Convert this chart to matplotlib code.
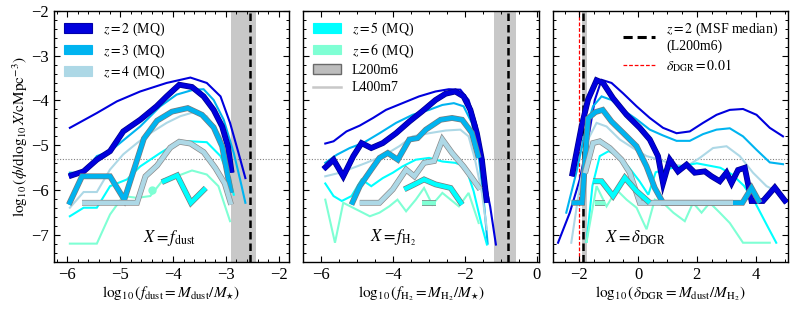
import matplotlib
matplotlib.use('Agg')
import matplotlib.pyplot as plt
import matplotlib.patheffects as pe
from matplotlib.lines import Line2D
from matplotlib.patches import Patch
from matplotlib.ticker import MultipleLocator

plt.rcParams['font.family'] = 'serif'
plt.rcParams['font.serif'] = ['Liberation Serif', 'DejaVu Serif']
plt.rcParams['mathtext.fontset'] = 'stix'

# ---------------- data ----------------
redshifts = [2, 3, 4, 5, 6]
z_colors = ['#0000dd', '#00b4f0', '#add8e6', '#00ffff', '#7fffd4']
z_edges = ['#00008b', '#7a7a7a', '#8a8a8a', '#7a7a7a', '#7a7a7a']

ylim = (-7.6, -2.0)
y_limit_line = -5.3

# Panel 1: f_dust
p1_xlim = (-6.25, -1.8)
p1_band = (-2.90, -2.42)
p1_median = -2.55
p1_thin_z2_x = [-5.95, -5.44, -5.06, -4.62, -4.12, -3.67, -3.36, -3.10, -2.92, -2.76, -2.63]
p1_thin_z2_y = [-4.61, -4.28, -4.02, -3.80, -3.61, -3.49, -3.61, -3.91, -4.50, -5.17, -5.73]
p1_thin_z3_x = [-5.95, -5.69, -5.44, -5.19, -4.62, -4.24, -3.93, -3.61, -3.42, -3.23, -3.04, -2.85, -2.73, -2.63]
p1_thin_z3_y = [-5.61, -5.61, -5.24, -5.13, -4.58, -4.13, -3.87, -3.76, -3.75, -3.99, -4.43, -5.17, -5.76, -6.28]
p1_thin_z4_x = [-5.95, -5.69, -5.44, -5.19, -4.94, -4.68, -4.43, -4.12, -3.86, -3.60, -3.36, -3.10, -2.92]
p1_thin_z4_y = [-6.39, -6.04, -6.04, -5.54, -5.20, -4.95, -4.73, -4.50, -4.35, -4.26, -4.35, -4.80, -5.60]
p1_thin_z5_x = [-5.95, -5.69, -5.44, -5.19, -4.87, -4.62, -4.24, -3.93, -3.67, -3.36, -3.10, -2.92, -2.85]
p1_thin_z5_y = [-6.58, -6.39, -6.39, -5.91, -5.76, -5.47, -5.17, -4.95, -4.91, -4.93, -5.24, -5.76, -6.10]
p1_thin_z6_x = [-5.95, -5.44, -5.19, -4.94, -4.68, -4.43, -4.18, -3.93, -3.64, -3.36, -3.14, -2.92]
p1_thin_z6_y = [-7.19, -7.19, -6.54, -6.13, -6.17, -6.13, -5.76, -5.69, -5.56, -5.65, -5.91, -6.69]
p1_thick_z2_x = [-5.97, -5.69, -5.44, -5.19, -4.94, -4.62, -4.31, -4.12, -3.88, -3.64, -3.42, -3.23, -3.07, -2.96, -2.89]
p1_thick_z2_y = [-5.69, -5.58, -5.32, -5.13, -4.69, -4.43, -4.13, -3.91, -3.65, -3.70, -3.91, -4.21, -4.58, -5.02, -5.61]
p1_thick_z3_x = [-5.97, -5.72, -5.19, -4.92, -4.55, -4.30, -4.02, -3.72, -3.45, -3.23, -3.07, -2.95, -2.90]
p1_thick_z3_y = [-6.32, -5.69, -5.69, -6.21, -4.85, -4.45, -4.25, -4.17, -4.32, -4.60, -5.02, -5.76, -6.06]
p1_thick_z4_x = [-5.72, -4.68, -4.52, -4.30, -4.05, -3.88, -3.67, -3.42, -3.20, -3.02, -2.90]
p1_thick_z4_y = [-6.28, -6.28, -5.69, -5.45, -5.05, -4.92, -4.96, -5.15, -5.50, -5.85, -6.32]
p1_thick_z5_x = [-4.21, -3.92, -3.66, -3.38]
p1_thick_z5_y = [-5.82, -5.67, -6.28, -5.95]
p1_thick_z6_x = [-4.40]
p1_thick_z6_y = [-6.00]

# Panel 2: f_H2
p2_xlim = (-6.5, 0.05)
p2_band = (-1.19, -0.57)
p2_median = -0.80
p2_thin_z2_x = [-5.89, -5.66, -5.30, -4.93, -4.56, -4.20, -3.74, -3.28, -2.82, -2.45, -2.13, -1.90, -1.67, -1.49, -1.30, -1.14]
p2_thin_z2_y = [-4.96, -4.91, -4.69, -4.56, -4.39, -4.21, -4.06, -3.91, -3.80, -3.75, -3.76, -3.99, -4.58, -5.61, -6.36, -7.21]
p2_thin_z3_x = [-5.89, -5.57, -5.21, -4.84, -4.38, -3.92, -3.46, -3.00, -2.63, -2.31, -2.04, -1.81, -1.62, -1.49, -1.37]
p2_thin_z3_y = [-5.39, -5.21, -5.06, -4.95, -4.73, -4.50, -4.32, -4.21, -4.10, -4.06, -4.13, -4.50, -5.24, -6.13, -7.19]
p2_thin_z4_x = [-5.89, -5.48, -5.11, -4.75, -4.29, -3.83, -3.46, -3.00, -2.54, -2.13, -1.90, -1.72, -1.53, -1.39]
p2_thin_z4_y = [-5.69, -5.61, -5.50, -5.39, -5.24, -5.02, -4.80, -4.73, -4.67, -4.65, -4.80, -5.32, -6.06, -6.87]
p2_thin_z5_x = [-5.89, -5.66, -5.43, -5.16, -4.88, -4.61, -4.29, -4.01, -3.74, -3.37, -3.00, -2.63, -2.27, -1.99, -1.76, -1.53, -1.39]
p2_thin_z5_y = [-5.85, -6.13, -6.24, -6.13, -5.76, -5.91, -5.73, -5.61, -5.47, -5.32, -5.28, -5.36, -5.39, -5.47, -6.02, -6.80, -7.21]
p2_thin_z6_x = [-5.89, -5.62, -5.39, -5.02, -4.65, -4.38, -4.11, -3.88, -3.64, -3.37, -3.14, -2.91, -2.63, -2.40, -2.17, -1.90, -1.62]
p2_thin_z6_y = [-6.21, -7.17, -6.28, -6.43, -6.58, -6.50, -6.36, -6.21, -6.47, -6.21, -5.95, -6.32, -6.06, -6.21, -6.36, -6.06, -6.73]
p2_thick_z2_x = [-5.94, -5.66, -5.39, -5.11, -4.88, -4.61, -4.29, -3.92, -3.55, -3.19, -2.82, -2.54, -2.27, -2.04, -1.85, -1.67, -1.53, -1.39]
p2_thick_z2_y = [-5.53, -5.32, -5.69, -5.24, -4.95, -5.06, -4.95, -4.73, -4.47, -4.24, -3.99, -3.85, -3.80, -3.91, -4.21, -4.73, -5.32, -6.28]
p2_thick_z3_x = [-5.16, -4.93, -4.61, -4.38, -4.15, -3.87, -3.55, -3.32, -3.09, -2.68, -2.36, -2.08, -1.81, -1.62]
p2_thick_z3_y = [-6.32, -5.91, -5.54, -5.28, -5.17, -5.32, -4.87, -4.84, -4.65, -4.43, -4.39, -4.43, -4.72, -5.28]
p2_thick_z4_x = [-4.93, -4.38, -4.01, -3.64, -3.41, -3.14, -2.86, -2.63, -2.36, -2.04, -1.81, -1.58]
p2_thick_z4_y = [-6.28, -6.28, -5.98, -5.54, -5.69, -5.39, -5.35, -4.87, -5.17, -5.47, -5.72, -5.98]
p2_thick_z5_x = [-3.69, -3.46, -3.14, -2.82, -2.40, -2.08]
p2_thick_z5_y = [-5.98, -5.89, -5.76, -5.87, -5.95, -6.32]
p2_thick_z6_x = [-3.19, -2.82]
p2_thick_z6_y = [-6.28, -6.28]

# Panel 3: delta_DGR
p3_xlim = (-2.9, 5.1)
p3_band = (-1.92, -1.73)
p3_median = -1.86
p3_dgr_ref = -2.0
p3_thin_z2_x = [-2.72, -2.32, -1.98, -1.70, -1.47, -1.24, -0.90, -0.51, -0.05, 0.40, 0.85, 1.31, 1.76, 2.21, 2.67, 3.12, 3.57, 4.03, 4.48, 4.93]
p3_thin_z2_y = [-7.17, -6.50, -5.76, -4.87, -3.99, -3.54, -3.61, -3.84, -4.13, -4.39, -4.61, -4.73, -4.69, -4.50, -4.32, -4.21, -4.19, -4.32, -4.61, -4.80]
p3_thin_z3_x = [-2.44, -2.10, -1.81, -1.53, -1.24, -0.90, -0.51, -0.05, 0.40, 0.85, 1.31, 1.76, 2.21, 2.67, 3.12, 3.57, 4.03, 4.48, 4.93]
p3_thin_z3_y = [-6.50, -5.61, -4.73, -4.13, -3.91, -3.99, -4.21, -4.42, -4.65, -4.78, -4.90, -4.90, -4.75, -4.65, -4.62, -4.80, -5.10, -5.38, -5.42]
p3_thin_z4_x = [-2.27, -1.98, -1.70, -1.41, -1.07, -0.62, -0.17, 0.29, 0.74, 1.20, 1.65, 2.10, 2.55, 3.01, 3.46, 3.91, 4.37, 4.82]
p3_thin_z4_y = [-7.17, -5.91, -4.87, -4.50, -4.58, -4.87, -5.06, -5.24, -5.32, -5.43, -5.47, -5.28, -5.06, -5.02, -5.24, -5.61, -5.91, -6.06]
p3_thin_z5_x = [-1.75, -1.55, -1.30, -1.00, -0.65, -0.30, 0.05, 0.35, 0.60, 0.85, 1.20, 1.60, 2.00, 2.40, 2.80, 3.20, 3.60, 4.00, 4.40, 4.70]
p3_thin_z5_y = [-7.15, -5.90, -5.24, -5.13, -5.24, -5.50, -5.80, -6.10, -5.60, -5.55, -5.50, -5.45, -5.40, -5.45, -5.50, -5.65, -5.90, -6.30, -6.80, -7.17]
p3_thin_z6_x = [-1.75, -1.41, -1.07, -0.73, -0.39, -0.05, 0.29, 0.57, 0.85, 1.20, 1.59, 1.87, 2.16, 2.44, 2.78, 3.12, 3.57, 4.48]
p3_thin_z6_y = [-7.15, -5.91, -6.36, -5.99, -6.21, -6.39, -6.87, -6.21, -6.28, -6.50, -6.69, -6.28, -6.50, -6.28, -6.50, -6.73, -7.17, -7.17]
p3_thick_z2_x = [-2.25, -1.92, -1.70, -1.41, -1.19, -0.85, -0.39, 0.06, 0.40, 0.68, 0.85, 1.08, 1.36, 1.65, 1.93, 2.27, 2.50, 2.78, 3.01, 3.18, 3.40, 3.63, 3.86, 4.25, 4.65, 5.05]
p3_thick_z2_y = [-5.69, -4.58, -3.98, -3.55, -3.61, -3.95, -4.32, -4.61, -4.87, -5.24, -5.84, -5.32, -5.58, -5.43, -5.61, -5.58, -5.69, -5.80, -5.61, -5.84, -5.55, -5.50, -6.24, -6.24, -5.94, -6.28]
p3_thick_z3_x = [-2.26, -1.90, -1.70, -1.45, -1.20, -0.90, -0.51, -0.05, 0.29, 0.57, 0.85, 3.23, 3.55, 3.86, 4.14]
p3_thick_z3_y = [-6.28, -6.28, -4.40, -4.26, -4.21, -4.47, -4.72, -5.02, -5.47, -5.95, -6.28, -6.28, -6.28, -5.95, -6.28]
p3_thick_z4_x = [-1.80, -1.53, -1.30, -0.96, -0.56, -0.28, 0.06, 3.23]
p3_thick_z4_y = [-5.62, -4.95, -4.91, -5.06, -5.32, -5.61, -6.28, -6.28]
p3_thick_z5_x = [-1.53, -1.24, -0.85, -0.45, -0.05, 0.40]
p3_thick_z5_y = [-5.80, -5.80, -6.13, -5.72, -6.02, -6.28]
p3_thick_z6_x = [-1.47, -1.13]
p3_thick_z6_y = [-6.28, -6.28]

panels = [
    dict(xlim=p1_xlim, band=p1_band, median=p1_median,
         thin=[(p1_thin_z2_x, p1_thin_z2_y), (p1_thin_z3_x, p1_thin_z3_y), (p1_thin_z4_x, p1_thin_z4_y),
               (p1_thin_z5_x, p1_thin_z5_y), (p1_thin_z6_x, p1_thin_z6_y)],
         thick=[(p1_thick_z2_x, p1_thick_z2_y), (p1_thick_z3_x, p1_thick_z3_y), (p1_thick_z4_x, p1_thick_z4_y),
                (p1_thick_z5_x, p1_thick_z5_y), (p1_thick_z6_x, p1_thick_z6_y)],
         xlabel=r'$\log_{10}(f_{\rm dust}=M_{\rm dust}/M_{\star})$', label=r'$X=f_{\rm dust}$', lx=0.49,
         major=1, minor=0.2),
    dict(xlim=p2_xlim, band=p2_band, median=p2_median,
         thin=[(p2_thin_z2_x, p2_thin_z2_y), (p2_thin_z3_x, p2_thin_z3_y), (p2_thin_z4_x, p2_thin_z4_y),
               (p2_thin_z5_x, p2_thin_z5_y), (p2_thin_z6_x, p2_thin_z6_y)],
         thick=[(p2_thick_z2_x, p2_thick_z2_y), (p2_thick_z3_x, p2_thick_z3_y), (p2_thick_z4_x, p2_thick_z4_y),
                (p2_thick_z5_x, p2_thick_z5_y), (p2_thick_z6_x, p2_thick_z6_y)],
         xlabel=r'$\log_{10}(f_{\rm H_2}=M_{\rm H_2}/M_{\star})$', label=r'$X=f_{\rm H_2}$', lx=0.38,
         major=2, minor=0.5),
    dict(xlim=p3_xlim, band=p3_band, median=p3_median,
         thin=[(p3_thin_z2_x, p3_thin_z2_y), (p3_thin_z3_x, p3_thin_z3_y), (p3_thin_z4_x, p3_thin_z4_y),
               (p3_thin_z5_x, p3_thin_z5_y), (p3_thin_z6_x, p3_thin_z6_y)],
         thick=[(p3_thick_z2_x, p3_thick_z2_y), (p3_thick_z3_x, p3_thick_z3_y), (p3_thick_z4_x, p3_thick_z4_y),
                (p3_thick_z5_x, p3_thick_z5_y), (p3_thick_z6_x, p3_thick_z6_y)],
         xlabel=r'$\log_{10}(\delta_{\rm DGR}=M_{\rm dust}/M_{\rm H_2})$', label=r'$X=\delta_{\rm DGR}$', lx=0.35,
         major=2, minor=0.5),
]

fig, axes = plt.subplots(1, 3, figsize=(7.93, 3.09), dpi=100, sharey=True)
fig.subplots_adjust(left=0.0681, right=0.9937, bottom=0.152, top=0.9654, wspace=0.06)

for i, (ax, P) in enumerate(zip(axes, panels)):
    ax.set_xlim(*P['xlim'])
    ax.set_ylim(*ylim)
    ax.axvspan(P['band'][0], P['band'][1], color='#c8c8c8', lw=0, zorder=0)
    ax.axvline(P['median'], color='k', lw=1.8, ls=(0, (3, 1.6)), zorder=1)
    if i == 2:
        ax.axvline(p3_dgr_ref, color='red', lw=0.9, ls=(0, (3, 1.5)), zorder=1)
    ax.axhline(y_limit_line, color='gray', lw=0.8, ls=(0, (1, 1.5)), zorder=1)
    for (x, y), c in zip(P['thin'], z_colors):
        ax.plot(x, y, color=c, lw=1.5, zorder=2, solid_joinstyle='miter')
    for (x, y), c, e in zip(P['thick'], z_colors, z_edges):
        if len(x) == 1:
            ax.plot(x, y, 'o', color=c, ms=5, mec=c, zorder=3)
        else:
            ax.plot(x, y, color=c, lw=3.2, zorder=3, solid_joinstyle='miter', solid_capstyle='butt',
                    path_effects=[pe.Stroke(linewidth=4.2, foreground=e), pe.Normal()])
    ax.text(P['lx'], 0.095, P['label'], transform=ax.transAxes, fontsize=12, ha='center', va='center')
    ax.set_xlabel(P['xlabel'], fontsize=11, labelpad=1)
    ax.xaxis.set_major_locator(MultipleLocator(P['major']))
    ax.xaxis.set_minor_locator(MultipleLocator(P['minor']))
    ax.yaxis.set_major_locator(MultipleLocator(1))
    ax.yaxis.set_minor_locator(MultipleLocator(0.2))
    ax.tick_params(which='both', direction='in', top=True, right=True, labelsize=12)
    ax.tick_params(which='major', length=4.5, width=0.8)
    ax.tick_params(which='minor', length=2.2, width=0.7)
    for s in ax.spines.values():
        s.set_linewidth(1.0)

axes[0].set_ylabel(r'$\log_{10}(\phi/{\rm d}\log_{10}X/{\rm cMpc}^{-3})$', fontsize=11, labelpad=1)

# legends
leg_kw = dict(frameon=False, fontsize=10, handlelength=2.0, handleheight=0.7, handletextpad=0.8,
              labelspacing=0.32, borderaxespad=0.3)
h1 = [Patch(facecolor=z_colors[k], edgecolor=z_colors[k] if k else '#0000aa', lw=0.8) for k in range(3)]
l1 = [r'$z=%d$ (MQ)' % redshifts[k] for k in range(3)]
axes[0].legend(h1, l1, loc='upper left', **leg_kw)

h2 = [Patch(facecolor=z_colors[3], edgecolor=z_colors[3], lw=0.8),
      Patch(facecolor=z_colors[4], edgecolor=z_colors[4], lw=0.8),
      Patch(facecolor='#bdbdbd', edgecolor='#6a6a6a', lw=1.0),
      Line2D([0], [0], color='#c8c8c8', lw=1.8)]
l2 = [r'$z=5$ (MQ)', r'$z=6$ (MQ)', 'L200m6', 'L400m7']
axes[1].legend(h2, l2, loc='upper left', **leg_kw)

h3 = [Line2D([0], [0], color='k', lw=2.2, ls=(0, (3, 1.6))),
      Line2D([0], [0], color='red', lw=0.9, ls=(0, (3, 1.5)))]
l3 = ['$z=2$ (MSF median)\n(L200m6)', r'$\delta_{\rm DGR}=0.01$']
axes[2].legend(h3, l3, loc='upper right', frameon=False, fontsize=10, handlelength=2.3,
               handletextpad=0.8, labelspacing=0.25, borderaxespad=0.3)

fig.savefig('out.png', dpi=100)
